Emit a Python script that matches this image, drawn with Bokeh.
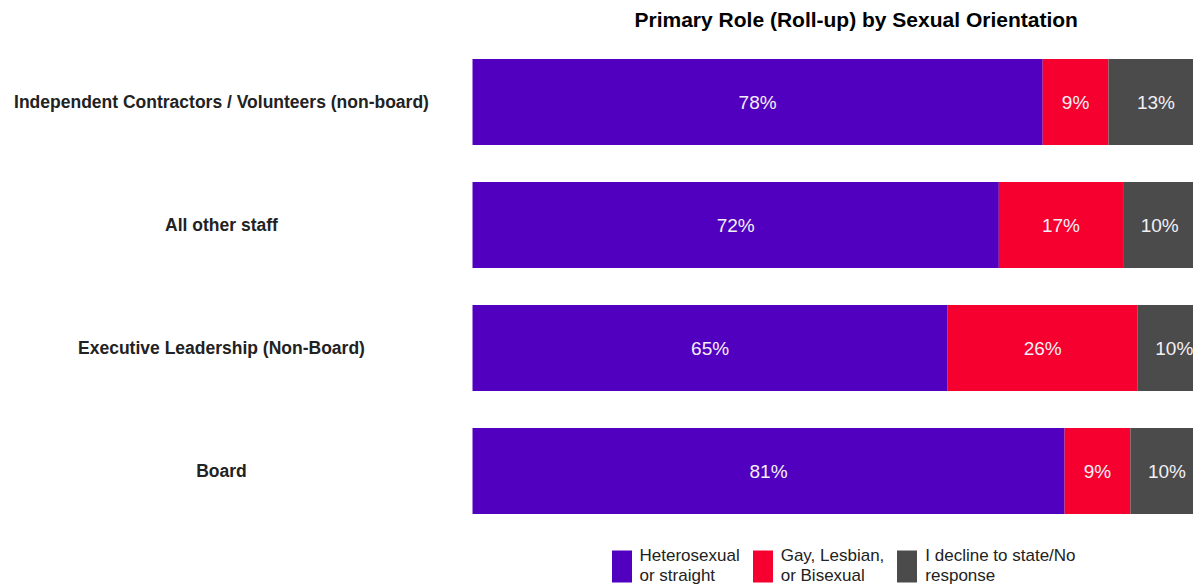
from bokeh.plotting import figure
from bokeh.models import ColumnDataSource, Range1d, LabelSet, Legend, LegendItem
from bokeh.core.properties import value
from bokeh.embed import file_html
from bokeh.resources import INLINE

roles = ["Independent Contractors / Volunteers (non-board)", "All other staff",
         "Executive Leadership (Non-Board)", "Board"]
hetero = [78, 72, 65, 81]
lgb = [9, 17, 26, 9]
decline = [13, 10, 10, 10]
series_keys = ["hetero", "lgb", "decline"]
series_names = ["Heterosexual\nor straight", "Gay, Lesbian,\nor Bisexual", "I decline to state/No\nresponse"]
colors = ["#5100BF", "#F5002F", "#4B4B4B"]
title_text = "Primary Role (Roll-up) by Sexual Orientation"

FONT = "Liberation Sans"

# row positions: first role on top
ypos = [len(roles) - 1 - i for i in range(len(roles))]
src = ColumnDataSource(dict(y=ypos, role=roles, hetero=hetero, lgb=lgb, decline=decline))

p = figure(width=1193, height=586,
           x_range=Range1d(-64.57, 98.63), y_range=Range1d(-0.939, 3.5407),
           output_backend="svg", toolbar_location=None,
           min_border_left=0, min_border_right=0, min_border_top=0, min_border_bottom=0)

rs = p.hbar_stack(series_keys, y="y", height=0.7, color=colors, line_color=None, source=src)

# value labels
vals = [hetero, lgb, decline]
starts = [0] * len(roles)
for vlist in vals:
    xs = [s + v / 2 for s, v in zip(starts, vlist)]
    lsrc = ColumnDataSource(dict(x=xs, y=ypos, t=[f"{v}%" for v in vlist]))
    p.add_layout(LabelSet(x="x", y="y", text="t", source=lsrc, text_align="center",
                          text_baseline="middle", text_color="#F2F0F6", text_font=value(FONT),
                          text_font_size="19px"))
    starts = [s + v for s, v in zip(starts, vlist)]

# category labels, centered in the left area
p.text(x=[-34.34] * len(roles), y=ypos, text=roles, text_align="center",
       text_baseline="middle", text_color="#222222", text_font=value(FONT),
       text_font_size="17.5px", text_font_style="bold")

legend = Legend(items=[LegendItem(label=n, renderers=[r]) for n, r in zip(series_names, rs)],
                orientation="horizontal", location=(608.5, 0), glyph_width=25, glyph_height=40,
                label_text_font=FONT, label_text_font_size="17px", label_text_color="#222222",
                label_text_line_height=1.05, border_line_color=None, background_fill_alpha=0,
                spacing=10, padding=0, margin=0, label_standoff=6)
p.add_layout(legend)

p.title.text = title_text
p.title.align = "left"
p.title.offset = 634
p.title.standoff = 10
p.title.text_font = FONT
p.title.text_font_size = "21px"
p.title.text_font_style = "bold"
p.title.text_color = "#000000"

p.xaxis.visible = False
p.yaxis.visible = False
p.xgrid.visible = False
p.ygrid.visible = False
p.outline_line_color = None

open("out.html", "w").write(file_html(p, INLINE))
